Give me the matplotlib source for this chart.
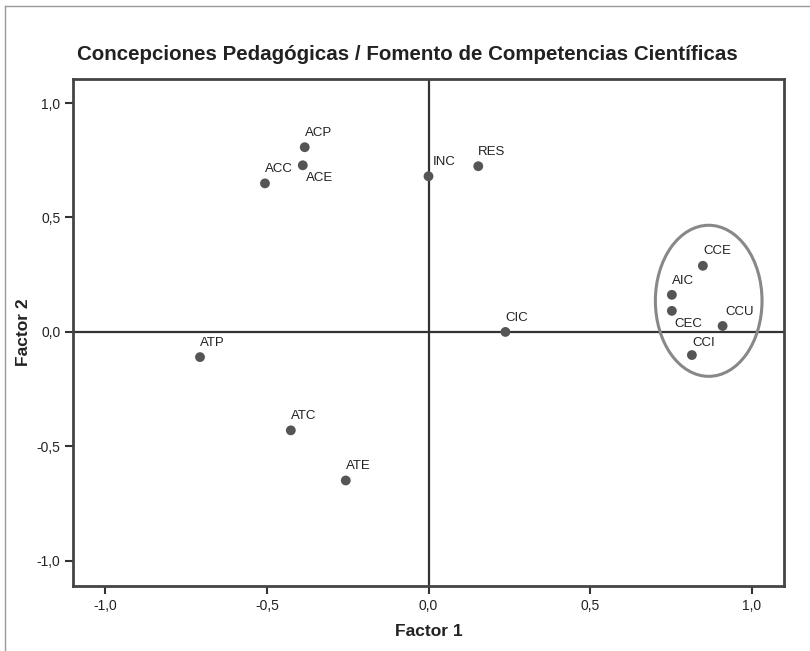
import matplotlib
matplotlib.use("Agg")
import matplotlib.pyplot as plt
from matplotlib.patches import Ellipse
from matplotlib.lines import Line2D
from matplotlib.ticker import FuncFormatter

plt.rcParams['font.family'] = ['Liberation Sans', 'DejaVu Sans']

labels = ["ACP", "ACE", "ACC", "INC", "RES", "CCE", "AIC", "CEC", "CCU", "CCI", "CIC", "ATP", "ATC", "ATE"]
factor1 = [-0.383, -0.389, -0.506, 0.0, 0.154, 0.849, 0.753, 0.753, 0.910, 0.815, 0.238, -0.707, -0.426, -0.256]
factor2 = [0.807, 0.728, 0.649, 0.680, 0.724, 0.289, 0.162, 0.092, 0.026, -0.101, 0.0, -0.110, -0.430, -0.649]
# label offsets in points (dx, dy)
offsets = {"ACP": (0, 6), "ACE": (2, -5), "ACC": (0, 6), "INC": (3, 6), "RES": (0, 6),
           "CCE": (0, 6), "AIC": (0, 6), "CEC": (2, -5), "CCU": (2, 6), "CCI": (0, 4),
           "CIC": (0, 6), "ATP": (0, 6), "ATC": (0, 6), "ATE": (0, 6)}
ticks = [-1.0, -0.5, 0.0, 0.5, 1.0]

fig = plt.figure(figsize=(8.1, 6.51), dpi=100)
ax = fig.add_axes([73/810, 1-586/651, (784-73)/810, (586-79)/651])

ax.axhline(0, color='#333333', lw=1.6, zorder=1)
ax.axvline(0, color='#333333', lw=1.6, zorder=1)

ax.scatter(factor1, factor2, s=50, color='#555555', zorder=3, edgecolors='none')
for lab, x, y in zip(labels, factor1, factor2):
    dx, dy = offsets[lab]
    ax.annotate(lab, (x, y), xytext=(dx, dy), textcoords='offset points',
                fontsize=9.5, color='#222222', ha='left', va='bottom' if dy > 0 else 'top')

ell = Ellipse((0.867, 0.136), 0.33, 0.66, fill=False, edgecolor='#888888', lw=2.2, zorder=2)
ax.add_patch(ell)

ax.set_xlim(-1.1, 1.1)
ax.set_ylim(-1.11, 1.105)
ax.set_xticks(ticks)
ax.set_yticks(ticks)
fmt = FuncFormatter(lambda v, p: f"{v:.1f}".replace('.', ','))
ax.xaxis.set_major_formatter(fmt)
ax.yaxis.set_major_formatter(fmt)
ax.tick_params(direction='out', length=6, width=1.5, pad=3, color='#333333', labelsize=10, labelcolor='#222222')
for s in ax.spines.values():
    s.set_linewidth(2.0)
    s.set_color('#444444')

ax.set_xlabel("Factor 1", fontsize=12.5, fontweight='bold', color='#222222', labelpad=8)
ax.set_ylabel("Factor 2", fontsize=12.5, fontweight='bold', color='#222222', labelpad=4)
fig.text(0.5 + 2/810, 1-55/651, "Concepciones Pedagógicas / Fomento de Competencias Científicas",
         ha='center', va='center', fontsize=14.8, fontweight='bold', color='#222222')

fig.add_artist(Line2D([5/810, 5/810], [0, 1-6/651], transform=fig.transFigure, color='#999999', lw=1))
fig.add_artist(Line2D([5/810, 1], [1-6/651, 1-6/651], transform=fig.transFigure, color='#999999', lw=1))

fig.savefig("out.png", dpi=100)
